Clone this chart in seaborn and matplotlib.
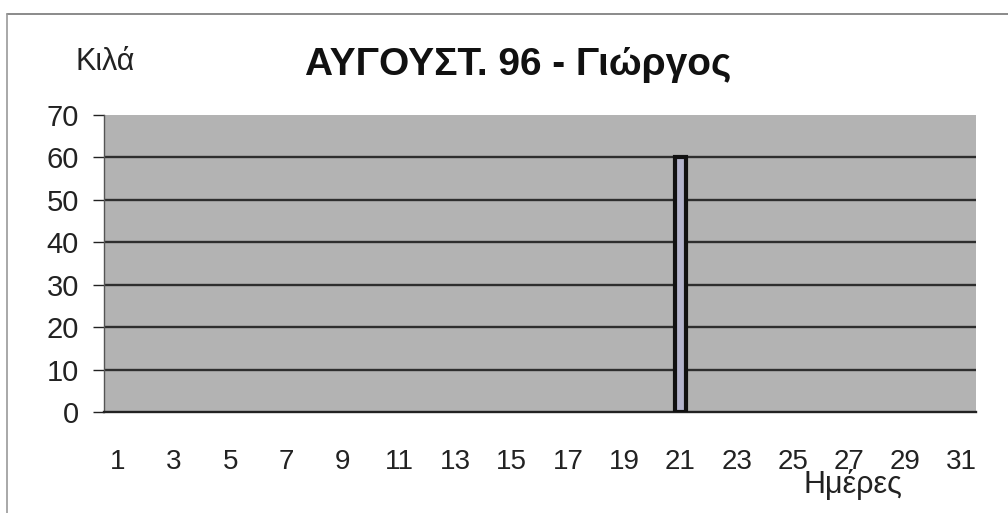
import numpy as np
import pandas as pd
import seaborn as sns
import matplotlib.pyplot as plt
from matplotlib.lines import Line2D

# Data (kilos per day, August 96)
days = list(range(1, 32))
kilos = [0, 0, 0, 0, 0, 0, 0, 0, 0, 0,
         0, 0, 0, 0, 0, 0, 0, 0, 0, 0,
         60, 0, 0, 0, 0, 0, 0, 0, 0, 0,
         0]
y_ticks = [0, 10, 20, 30, 40, 50, 60, 70]

title = "ΑΥΓΟΥΣΤ. 96 - Γιώργος"
y_title = "Κιλά"
x_title = "Ημέρες"

sns.set_theme(style="white")
plt.rcParams["font.family"] = ["Liberation Sans", "DejaVu Sans"]

df = pd.DataFrame({"day": days, "kilos": kilos})

fig = plt.figure(figsize=(10.08, 5.13), dpi=100)
ax = fig.add_axes([0.103, 0.197, 0.865, 0.579])
ax.set_facecolor("#b3b3b3")

sns.barplot(data=df, x="day", y="kilos", color="#b4b4cc", saturation=1,
            width=0.42, edgecolor="#111111", linewidth=3, ax=ax, zorder=3)

# empty days should not draw an outline on the baseline
for p in ax.patches:
    if p.get_height() == 0:
        p.set_linewidth(0)

ax.set_xlim(-0.5, len(days) - 0.5)
ax.set_ylim(0, 70)
ax.set_yticks(y_ticks)
ax.set_yticklabels([str(v) for v in y_ticks])

ax.set_xticks(range(0, len(days), 2))
ax.set_xticklabels([str(d) for d in days[::2]])
ax.set_xticks(np.arange(-0.5, len(days), 1), minor=True)

ax.tick_params(axis="x", which="major", length=0, pad=27, labelsize=20, colors="#222222")
ax.tick_params(axis="x", which="minor", length=6, width=1, direction="out", color="#333333")
ax.tick_params(axis="y", length=8, width=1, direction="out", pad=10, labelsize=21,
               colors="#222222", left=True)

ax.yaxis.grid(True, color="#2e2e2e", linewidth=1.7, zorder=1)
ax.yaxis.get_gridlines()[-1].set_visible(False)
ax.yaxis.get_gridlines()[0].set_visible(False)
ax.set_axisbelow(True)

ax.set_xlabel("")
ax.set_ylabel("")
for s in ["top", "right"]:
    ax.spines[s].set_visible(False)
ax.spines["left"].set_color("#555555")
ax.spines["left"].set_linewidth(1)
ax.spines["bottom"].set_color("#222222")
ax.spines["bottom"].set_linewidth(1.7)

fig.text(0.514, 0.854, title, ha="center", va="baseline", fontsize=28, fontweight="bold",
         color="#111111")
fig.text(0.075, 0.864, y_title, ha="left", va="baseline", fontsize=22, color="#222222")
fig.text(0.846, 0.039, x_title, ha="center", va="baseline", fontsize=22, color="#222222")

# outer frame of the chart (top and left edges visible in the scan)
fig.add_artist(Line2D([0.007, 1.0], [0.973, 0.973], color="#777777", linewidth=1.2))
fig.add_artist(Line2D([0.007, 0.007], [0.0, 0.973], color="#999999", linewidth=1.2))

fig.savefig("out.png", dpi=100)
